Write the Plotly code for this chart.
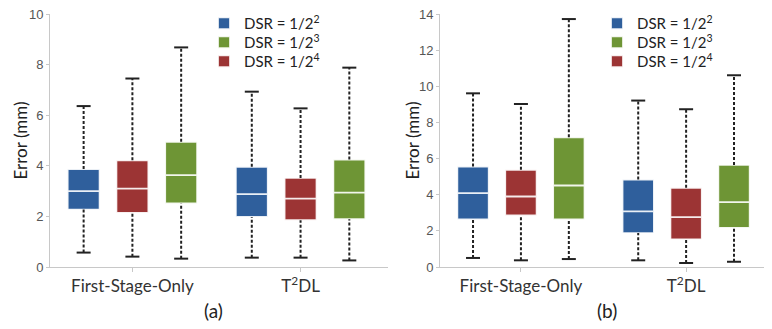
import plotly.graph_objects as go

categories = ["First-Stage-Only", "T<sup>2</sup>DL"]
series_names = ["DSR = 1/2<sup>2</sup>", "DSR = 1/2<sup>4</sup>", "DSR = 1/2<sup>3</sup>"]
series_colors = ["#2f5f9c", "#9c3434", "#6e9535"]
legend_slot = [0, 2, 1]   # legend order: 1/2^2, 1/2^3, 1/2^4

# panel (a): per series -> [First-Stage-Only, T2DL]
a_min = [[0.57, 0.37], [0.41, 0.37], [0.33, 0.26]]
a_q1 = [[2.27, 1.98], [2.14, 1.85], [2.51, 1.89]]
a_med = [[3.00, 2.88], [3.10, 2.70], [3.63, 2.94]]
a_q3 = [[3.87, 3.96], [4.22, 3.52], [4.95, 4.25]]
a_max = [[6.36, 6.93], [7.45, 6.27], [8.68, 7.88]]

# panel (b)
b_min = [[0.50, 0.37], [0.37, 0.22], [0.44, 0.29]]
b_q1 = [[2.63, 1.88], [2.85, 1.53], [2.63, 2.17]]
b_med = [[4.09, 3.08], [3.90, 2.76], [4.51, 3.59]]
b_q3 = [[5.56, 4.84], [5.38, 4.38], [7.18, 5.65]]
b_max = [[9.61, 9.21], [9.02, 8.73], [13.72, 10.61]]

y_ticks_a = [0, 2, 4, 6, 8, 10]
y_ticks_b = [0, 2, 4, 6, 8, 10, 12, 14]

# the page body has an 8px margin; lay out in screen pixels and shift
PAGE_OFF = 8
SW, SH = 772, 329
W, H = SW - PAGE_OFF, SH - PAGE_OFF
def fx(sx):
    return (sx - PAGE_OFF) / W

PLOT_TOP, PLOT_BOT = 14, 267  # screen px
T_M = PLOT_TOP - PAGE_OFF
B_M = H - (PLOT_BOT - PAGE_OFF)
PH = H - T_M - B_M
def fy(sy):
    return ((PLOT_BOT - PAGE_OFF) - (sy - PAGE_OFF)) / PH

OFFSET = 0.29
BOXW = 0.19
WHISKER = "#222222"
LEGEND_ROWS_Y = [23.5, 42.5, 61.5]    # screen px of legend rows
LEGEND_X = {"a": 204, "b": 597}       # screen px of legend left

fig = go.Figure()
legends = {}

def add_panel(tag, mins, q1s, meds, q3s, maxs, xa, ya, first_legend_idx):
    cat_idx = list(range(len(categories)))
    for k in range(len(series_names)):
        xs = [c + (k - 1) * OFFSET for c in cat_idx]
        n = first_legend_idx + legend_slot[k]
        lname = "legend" if n == 1 else f"legend{n}"
        legends[lname] = dict(x=fx(LEGEND_X[tag]), y=fy(LEGEND_ROWS_Y[legend_slot[k]]))
        fig.add_trace(go.Box(
            x=xs, q1=q1s[k], median=meds[k], q3=q3s[k],
            lowerfence=q1s[k], upperfence=q3s[k],
            width=BOXW, fillcolor=series_colors[k],
            line=dict(color="rgba(255,255,255,0.9)", width=1.8),
            whiskerwidth=0, name=series_names[k],
            xaxis=xa, yaxis=ya, legend=lname, hoverinfo="skip",
        ))
    for k in range(len(series_names)):
        lx, ly, cx, cy = [], [], [], []
        for c in cat_idx:
            x = c + (k - 1) * OFFSET
            lx += [x, x, None, x, x, None]
            ly += [q3s[k][c], maxs[k][c], None, mins[k][c], q1s[k][c], None]
            cx += [x, x]
            cy += [maxs[k][c], mins[k][c]]
        fig.add_trace(go.Scatter(x=lx, y=ly, mode="lines",
                                 line=dict(color=WHISKER, width=2, dash="3px,2px"),
                                 showlegend=False, hoverinfo="skip", xaxis=xa, yaxis=ya))
        fig.add_trace(go.Scatter(x=cx, y=cy, mode="markers",
                                 marker=dict(symbol="line-ew-open", size=10, color=WHISKER,
                                             line=dict(color=WHISKER, width=2)),
                                 showlegend=False, hoverinfo="skip", xaxis=xa, yaxis=ya))

add_panel("a", a_min, a_q1, a_med, a_q3, a_max, "x", "y", 1)
add_panel("b", b_min, b_q1, b_med, b_q3, b_max, "x2", "y2", 4)

axis_col = "#c8c8c8"
xcommon = dict(range=[-0.49, 1.52], tickmode="array", tickvals=[0, 1], ticktext=categories,
               showline=True, linecolor=axis_col, linewidth=1, ticks="outside",
               ticklen=4, tickcolor=axis_col, showgrid=False, zeroline=False,
               tickfont=dict(family="Lato", size=17, color="#333333"))
ycommon = dict(showline=True, linecolor=axis_col, linewidth=1, ticks="outside",
               ticklen=3, tickcolor=axis_col, showgrid=False, zeroline=False,
               ticklabeloverflow="allow",
               tickfont=dict(family="Liberation Sans", size=13, color="#555555"))

legend_style = dict(xanchor="left", yanchor="middle", bgcolor="rgba(0,0,0,0)",
                    font=dict(family="Lato", size=15, color="#222222"))

fig.update_layout(
    width=W, height=H, plot_bgcolor="white", paper_bgcolor="white",
    margin=dict(l=0, r=0, t=T_M, b=B_M, autoexpand=False),
    xaxis=dict(domain=[fx(50), fx(388)], anchor="y", **xcommon),
    yaxis=dict(domain=[0, 1], anchor="x", range=[0, 10], tickvals=y_ticks_a, **ycommon),
    xaxis2=dict(domain=[fx(440), fx(772)], anchor="y2", **xcommon),
    yaxis2=dict(domain=[0, 1], anchor="x2", range=[0, 14], tickvals=y_ticks_b, **ycommon),
    showlegend=True,
)
fig.update_layout({name: dict(**pos, **legend_style) for name, pos in legends.items()})

ann_font = dict(family="Lato", size=17, color="#222222")
for sx in (20, 412):
    fig.add_annotation(text="Error (mm)", textangle=-90, x=fx(sx), y=0.5, xref="paper",
                       yref="paper", xanchor="center", yanchor="middle",
                       showarrow=False, font=ann_font)
for label, sx in (("(a)", 213), ("(b)", 607)):
    fig.add_annotation(text=label, x=fx(sx), y=fy(310), xref="paper", yref="paper",
                       xanchor="center", yanchor="middle", showarrow=False,
                       font=dict(family="Lato", size=19, color="#222222"))

fig.write_html("out.html")
